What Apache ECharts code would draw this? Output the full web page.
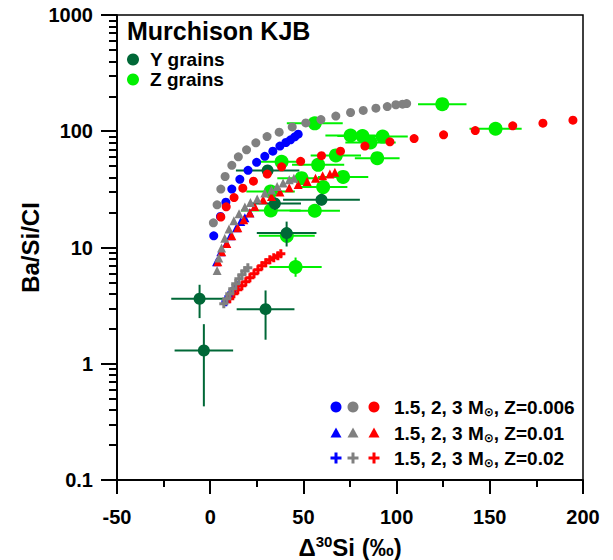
<!DOCTYPE html>
<html>
<head>
<meta charset="utf-8">
<script src="https://cdn.jsdelivr.net/npm/echarts@6/dist/echarts.min.js"></script>
<style>
html,body{margin:0;padding:0;background:#fff}
#wrap{position:relative;width:613px;height:560px}
#chart,#ticks{position:absolute;left:0;top:0;width:613px;height:560px}
#ticks{pointer-events:none}
</style>
</head>
<body>
<div id="wrap"><div id="chart"></div><div id="ticks"></div></div>
<script>
// ---- data ----
var xTicks = [-50, 0, 50, 100, 150, 200];
var yTicks = [0.1, 1, 10, 100, 1000];

// Y grains: x, y, x error (+/-), y low, y high
var yGrainX    = [-3.4, -5.7, 29.7, 41.0, 34.7, 59.7, 30.8];
var yGrainY    = [1.30, 3.62, 2.95, 13.3, 23.9, 25.7, 45.9];
var yGrainXErr = [15.7, 15.2, 15.5, 16.0, 14.0, 20.6, 17.0];
var yGrainYLo  = [0.43, 2.47, 1.61, 10.2, 21.0, 23.0, 42.0];
var yGrainYHi  = [2.19, 4.78, 4.27, 16.7, 27.0, 28.5, 50.0];

// Z grains
var zGrainX    = [56.1, 75.3, 81.7, 92.5, 86.0, 124.5, 153.1, 67.4, 89.6, 71.3, 38.3, 57.9, 49.0, 32.4, 60.6, 32.5, 56.1, 45.8, 41.1];
var zGrainY    = [117, 92, 91, 90, 80, 171, 105, 62, 58.7, 40.5, 54.6, 51.4, 39.5, 30.3, 33.1, 20.8, 20.7, 6.8, 12.6];
var zGrainXErr = [15, 13.5, 13.5, 13.5, 13.5, 13, 14, 13.5, 12, 13.5, 12.5, 14, 13, 13, 13, 16, 13.5, 14, 15];
var zGrainYLo  = [117, 92, 91, 90, 80, 171, 105, 62, 58.7, 40.5, 54.6, 51.4, 39.5, 30.3, 33.1, 20.8, 20.7, 5.6, 12.6];
var zGrainYHi  = [117, 92, 91, 90, 80, 171, 105, 62, 58.7, 40.5, 54.6, 51.4, 39.5, 30.3, 33.1, 20.8, 20.7, 8.2, 12.6];

// models, Z=0.006 (circles)
var m15z006X = [1.9, 5.5, 8.4, 11.6, 15.9, 20.3, 24.9, 29.3, 33.6, 37.4, 40.6, 43.1, 45.4, 47.2];
var m15z006Y = [12.6, 18.5, 24.5, 31.8, 38.6, 46.1, 54.0, 60.8, 67.4, 74.5, 80.0, 84.3, 89.5, 94.4];
var m2z006X  = [1.7, 3.7, 5.7, 8.0, 11.6, 15.1, 19.5, 24.5, 30.5, 37.0, 44.0, 51.3, 59.4, 67.4, 75.3, 82.1, 88.9, 95.0, 99.6, 103.2, 105.4];
var m2z006Y  = [16.3, 23.3, 31.8, 40.8, 50.9, 60.2, 69.2, 79.5, 90.0, 98.2, 109, 118, 126, 135, 145, 151, 158, 163, 169, 171, 173];
var m3z006X  = [5.7, 8.6, 12.8, 17.5, 23.2, 30.6, 38.3, 48.5, 59.7, 69.9, 83.0, 96.4, 109.4, 125.2, 142.2, 162.3, 178.5, 194.6];
var m3z006Y  = [18.3, 22.4, 26.9, 32.4, 37.2, 42.8, 49.4, 55.1, 61.7, 67.4, 74.5, 81.1, 86.5, 93.1, 101.4, 111.3, 117.4, 124.6];

// models, Z=0.01 (triangles)
var m15z01X = [3.4, 5.7, 8.7, 10.9, 14.1, 16.4, 18.6, 21.3];
var m15z01Y = [7.53, 9.18, 10.8, 12.6, 14.8, 16.7, 18.0, 19.9];
var m2z01X  = [3.7, 4.6, 6.1, 7.8, 10.1, 12.7, 15.5, 18.6, 21.6, 25.2, 29.3, 32.9, 35.9, 39.1, 42.4, 44.9];
var m2z01Y  = [6.34, 8.11, 9.88, 12.0, 14.4, 17.0, 19.5, 22.3, 24.4, 26.1, 29.4, 31.3, 33.5, 35.8, 38.2, 39.5];
var m3z01X  = [4.1, 6.2, 8.9, 11.6, 14.8, 18.0, 21.3, 23.9, 28.4, 32.9, 37.4, 42.4, 47.2, 52.0, 56.5, 60.3, 64.2, 66.9];
var m3z01Y  = [7.53, 9.18, 10.8, 12.6, 14.8, 17.3, 19.8, 22.5, 25.7, 27.5, 30.0, 32.6, 34.8, 36.9, 39.5, 41.4, 42.8, 44.5];

// models, Z=0.02 (crosses)
var m15z02X = [8.4, 10.0, 11.6, 13.2, 14.8];
var m15z02Y = [3.41, 3.77, 4.08, 4.42, 4.69];
var m2z02X  = [7.3, 8.9, 10.5, 12.1, 13.7, 15.4, 17.0, 18.6, 20.2];
var m2z02Y  = [3.28, 3.62, 4.00, 4.42, 4.87, 5.38, 5.83, 6.31, 6.69];
var m3z02X  = [10.5, 12.7, 14.8, 17.0, 19.1, 21.3, 23.5, 25.6, 27.7, 29.8, 32.0, 34.1, 36.3, 37.9];
var m3z02Y  = [3.62, 4.00, 4.33, 4.69, 5.07, 5.49, 5.94, 6.43, 6.96, 7.39, 7.84, 8.15, 8.48, 8.83];

var BLUE = '#0000ff', GRAY = '#808080', RED = '#ff0000';
var DKGREEN = '#006837', LTGREEN = '#00f000';
var FONT = 'Liberation Sans';
var PLUS = 'path://M3,0h3v3h3v3h-3v3h-3v-3h-3v-3h3z';
var GRID = { left: 117, right: 30, top: 15, bottom: 80, outerBoundsMode: 'none' };

function pts(xs, ys) { return xs.map(function (x, i) { return [x, ys[i]]; }); }
function errRows(xs, ys, xe, lo, hi) {
  return xs.map(function (x, i) { return [x, ys[i], xe[i], lo[i], hi[i]]; });
}

function errBars(color) {
  return function (params, api) {
    var x = api.value(0), y = api.value(1), xe = api.value(2), lo = api.value(3), hi = api.value(4);
    var a = api.coord([x - xe, y]), b = api.coord([x + xe, y]);
    var c = api.coord([x, lo]), d = api.coord([x, hi]);
    var st = { stroke: color, lineWidth: 2 };
    return {
      type: 'group',
      children: [
        { type: 'line', shape: { x1: a[0], y1: a[1], x2: b[0], y2: b[1] }, style: st },
        { type: 'line', shape: { x1: c[0], y1: c[1], x2: d[0], y2: d[1] }, style: st }
      ]
    };
  };
}

function model(name, xs, ys, symbol, size, color) {
  return {
    name: name, type: 'scatter', symbol: symbol, symbolSize: size, clip: false,
    itemStyle: { color: color, opacity: 1 }, data: pts(xs, ys), z: 5
  };
}

function axisLines() {
  return {
    x: {
      type: 'value', min: xTicks[0], max: xTicks[xTicks.length - 1], interval: 50,
      axisLine: { show: true, onZero: false, lineStyle: { color: '#000', width: 1.5 } },
      axisTick: { show: true, length: 14, lineStyle: { color: '#000', width: 2 } },
      minorTick: { show: true, splitNumber: 2, length: 7, lineStyle: { color: '#000', width: 2 } },
      splitLine: { show: false }
    },
    y: {
      type: 'log', logBase: 10, min: yTicks[0], max: yTicks[yTicks.length - 1],
      axisLine: { show: true, onZero: false, lineStyle: { color: '#000', width: 1.5 } },
      axisTick: { show: true, length: 16, lineStyle: { color: '#000', width: 2 } },
      minorTick: { show: true, splitNumber: 9, length: 8, lineStyle: { color: '#000', width: 2 } },
      splitLine: { show: false }
    }
  };
}

var myChart = echarts.init(document.getElementById('chart'), null, { renderer: 'svg' });

// bottom-right legend (three marker columns per row)
var legRows = [
  { y: 407, kind: 'circle', text: '1.5, 2, 3 M{s|\u2299}, Z=0.006' },
  { y: 433, kind: 'tri',    text: '1.5, 2, 3 M{s|\u2299}, Z=0.01' },
  { y: 458, kind: 'plus',   text: '1.5, 2, 3 M{s|\u2299}, Z=0.02' }
];
var legCols = [336, 353, 374];
var legColors = [BLUE, GRAY, RED];
var graphics = [];
legRows.forEach(function (r) {
  legCols.forEach(function (cx, j) {
    var col = legColors[j];
    if (r.kind === 'circle') {
      graphics.push({ type: 'circle', shape: { cx: cx, cy: r.y, r: 5.5 }, style: { fill: col } });
    } else if (r.kind === 'tri') {
      graphics.push({ type: 'polygon', shape: { points: [[cx, r.y - 5.5], [cx + 5.5, r.y + 4.5], [cx - 5.5, r.y + 4.5]] }, style: { fill: col } });
    } else {
      graphics.push({ type: 'rect', shape: { x: cx - 5.5, y: r.y - 1.5, width: 11, height: 3 }, style: { fill: col } });
      graphics.push({ type: 'rect', shape: { x: cx - 1.5, y: r.y - 5.5, width: 3, height: 11 }, style: { fill: col } });
    }
  });
  graphics.push({
    type: 'text', x: 394, y: r.y,
    style: {
      text: r.text, fill: '#000', fontSize: 19, fontWeight: 'bold', fontFamily: FONT,
      verticalAlign: 'middle', lineHeight: 22,
      rich: { s: { fontSize: 12, fontWeight: 'bold', fontFamily: 'DejaVu Sans', lineHeight: 12, verticalAlign: 'bottom', fill: '#000' } }
    }
  });
});

var ax = axisLines();
var xAxis = Object.assign({}, ax.x, {
  name: '\u0394{sup|30}Si (\u2030)', nameLocation: 'middle', nameGap: 54,
  nameTextStyle: {
    fontSize: 24, fontWeight: 'bold', color: '#000', fontFamily: FONT,
    rich: { sup: { fontSize: 15, fontWeight: 'bold', fontFamily: FONT, verticalAlign: 'top', lineHeight: 26, color: '#000' } }
  },
  axisLabel: { fontSize: 20, fontWeight: 'bold', color: '#000', fontFamily: FONT, margin: 27 }
});
var yAxis = Object.assign({}, ax.y, {
  name: 'Ba/Si/CI', nameLocation: 'middle', nameGap: 75, nameRotate: 90, nameMoveOverlap: false,
  nameTextStyle: { fontSize: 24, fontWeight: 'bold', color: '#000', fontFamily: FONT },
  axisLabel: { fontSize: 20, fontWeight: 'bold', color: '#000', fontFamily: FONT, margin: 24,
    formatter: function (v) { return String(+(+v).toPrecision(6)); } }
});

var option = {
  animation: false,
  textStyle: { fontFamily: FONT },
  title: {
    text: 'Murchison KJB', left: 127, top: 18, padding: 0,
    textStyle: { fontSize: 25, fontWeight: 'bold', color: '#000', fontFamily: FONT }
  },
  legend: {
    data: ['Y grains', 'Z grains'], orient: 'vertical', left: 127, top: 50, padding: 0,
    itemWidth: 12, itemHeight: 12, itemGap: 1, icon: 'circle',
    textStyle: { fontSize: 19, fontWeight: 'bold', color: '#000', fontFamily: FONT, lineHeight: 19, padding: [0, 0, 0, 6] }
  },
  grid: Object.assign({ show: true, borderColor: '#000', borderWidth: 1.5 }, GRID),
  xAxis: xAxis,
  yAxis: yAxis,
  graphic: graphics,
  series: [
    { name: 'zErr', type: 'custom', z: 2, clip: false, data: errRows(zGrainX, zGrainY, zGrainXErr, zGrainYLo, zGrainYHi), renderItem: errBars(LTGREEN) },
    { name: 'Z grains', type: 'scatter', symbol: 'circle', symbolSize: 14, clip: false, itemStyle: { color: LTGREEN, opacity: 1 }, data: pts(zGrainX, zGrainY), z: 2 },
    { name: 'yErr', type: 'custom', z: 3, clip: false, data: errRows(yGrainX, yGrainY, yGrainXErr, yGrainYLo, yGrainYHi), renderItem: errBars(DKGREEN) },
    { name: 'Y grains', type: 'scatter', symbol: 'circle', symbolSize: 12, clip: false, itemStyle: { color: DKGREEN, opacity: 1 }, data: pts(yGrainX, yGrainY), z: 3 },

    model('1.5 Z0.006', m15z006X, m15z006Y, 'circle', 9, BLUE),
    model('3 Z0.006', m3z006X, m3z006Y, 'circle', 9, RED),
    model('2 Z0.006', m2z006X, m2z006Y, 'circle', 9, GRAY),
    model('1.5 Z0.01', m15z01X, m15z01Y, 'triangle', 9, BLUE),
    model('3 Z0.01', m3z01X, m3z01Y, 'triangle', 9, RED),
    model('2 Z0.01', m2z01X, m2z01Y, 'triangle', 9, GRAY),
    model('1.5 Z0.02', m15z02X, m15z02Y, PLUS, 9, BLUE),
    model('3 Z0.02', m3z02X, m3z02Y, PLUS, 9, RED),
    model('2 Z0.02', m2z02X, m2z02Y, PLUS, 9, GRAY)
  ]
};

myChart.setOption(option);

// transparent overlay carrying only the axes, ticks and minor ticks on the same grid
var tickChart = echarts.init(document.getElementById('ticks'));
var ax2 = axisLines();
ax2.x.axisLabel = { color: 'rgba(0,0,0,0)' };
ax2.y.axisLabel = { color: 'rgba(0,0,0,0)' };
tickChart.setOption({
  animation: false,
  grid: GRID,
  xAxis: ax2.x,
  yAxis: ax2.y,
  series: [{ type: 'scatter', symbolSize: 0, silent: true, data: [[xTicks[0], yTicks[0]]] }]
});
</script>
</body>
</html>
